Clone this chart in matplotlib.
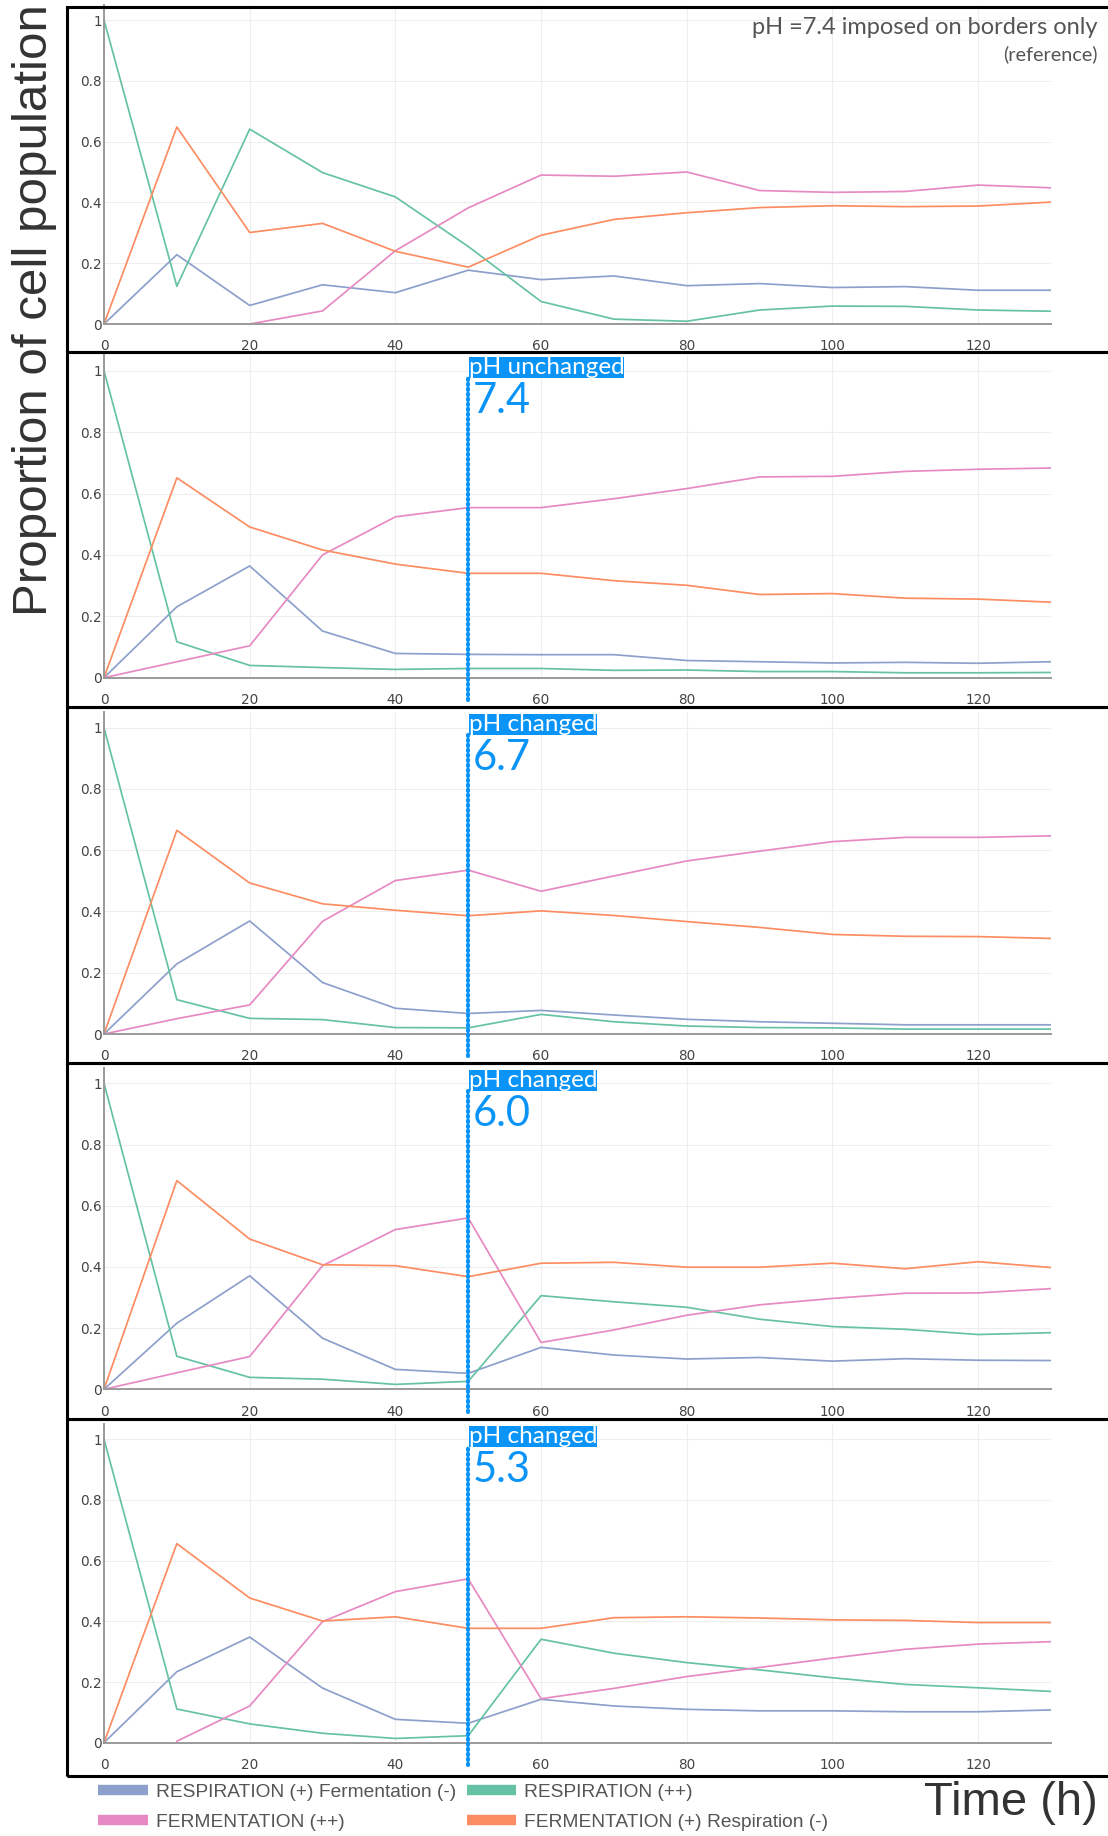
import numpy as np
import matplotlib
matplotlib.use('Agg')
import matplotlib.pyplot as plt
from matplotlib.patches import Rectangle
from matplotlib.lines import Line2D

nan = np.nan
t = [0, 10, 20, 30, 40, 50, 60, 70, 80, 90, 100, 110, 120, 130]

# panel 1 : pH 7.4 imposed on borders only (reference)
ref_resp_ferm = [0, 0.228, 0.061, 0.129, 0.103, 0.177, 0.146, 0.158, 0.126, 0.133, 0.120, 0.123, 0.111, 0.111]
ref_resp = [1.0, 0.124, 0.641, 0.498, 0.418, 0.255, 0.074, 0.016, 0.009, 0.046, 0.059, 0.058, 0.046, 0.042]
ref_ferm = [nan, nan, 0.0, 0.043, 0.241, 0.382, 0.490, 0.486, 0.500, 0.439, 0.433, 0.436, 0.457, 0.448]
ref_ferm_resp = [0, 0.648, 0.301, 0.331, 0.239, 0.187, 0.292, 0.344, 0.366, 0.383, 0.389, 0.386, 0.388, 0.401]

# panel 2 : pH unchanged 7.4
ph74_resp_ferm = [0, 0.231, 0.364, 0.152, 0.079, 0.076, 0.075, 0.075, 0.056, 0.052, 0.048, 0.050, 0.047, 0.052]
ph74_resp = [1.0, 0.117, 0.040, 0.033, 0.027, 0.030, 0.030, 0.024, 0.025, 0.020, 0.020, 0.016, 0.016, 0.017]
ph74_ferm = [0, 0.052, 0.104, 0.400, 0.524, 0.554, 0.554, 0.583, 0.616, 0.654, 0.656, 0.672, 0.679, 0.683]
ph74_ferm_resp = [0, 0.651, 0.491, 0.416, 0.370, 0.340, 0.340, 0.316, 0.301, 0.271, 0.274, 0.259, 0.256, 0.246]

# panel 3 : pH changed 6.7
ph67_resp_ferm = [0, 0.229, 0.369, 0.168, 0.084, 0.067, 0.077, 0.062, 0.048, 0.040, 0.035, 0.030, 0.030, 0.030]
ph67_resp = [1.0, 0.112, 0.051, 0.047, 0.021, 0.020, 0.064, 0.040, 0.026, 0.021, 0.020, 0.016, 0.016, 0.016]
ph67_ferm = [0, 0.050, 0.095, 0.368, 0.501, 0.535, 0.466, 0.516, 0.565, 0.597, 0.628, 0.642, 0.642, 0.647]
ph67_ferm_resp = [0, 0.665, 0.493, 0.425, 0.404, 0.386, 0.402, 0.387, 0.367, 0.348, 0.325, 0.319, 0.318, 0.312]

# panel 4 : pH changed 6.0
ph60_resp_ferm = [0, 0.216, 0.371, 0.167, 0.065, 0.052, 0.137, 0.112, 0.099, 0.104, 0.092, 0.100, 0.095, 0.094]
ph60_resp = [1.0, 0.108, 0.039, 0.033, 0.016, 0.026, 0.306, 0.286, 0.268, 0.229, 0.205, 0.196, 0.179, 0.185]
ph60_ferm = [0, 0.054, 0.107, 0.404, 0.522, 0.560, 0.153, 0.194, 0.242, 0.276, 0.297, 0.314, 0.315, 0.329]
ph60_ferm_resp = [0, 0.682, 0.491, 0.407, 0.404, 0.368, 0.412, 0.415, 0.399, 0.399, 0.412, 0.394, 0.417, 0.398]

# panel 5 : pH changed 5.3
ph53_resp_ferm = [0, 0.234, 0.348, 0.180, 0.077, 0.064, 0.143, 0.121, 0.110, 0.105, 0.105, 0.102, 0.102, 0.108]
ph53_resp = [1.0, 0.111, 0.062, 0.031, 0.014, 0.023, 0.341, 0.295, 0.264, 0.240, 0.214, 0.192, 0.181, 0.169]
ph53_ferm = [nan, 0.005, 0.121, 0.399, 0.498, 0.540, 0.145, 0.179, 0.218, 0.248, 0.279, 0.308, 0.325, 0.333]
ph53_ferm_resp = [0, 0.656, 0.477, 0.401, 0.415, 0.377, 0.377, 0.412, 0.415, 0.411, 0.405, 0.403, 0.396, 0.396]

series_names = ['RESPIRATION (+) Fermentation (-)', 'RESPIRATION (++)',
                'FERMENTATION (++)', 'FERMENTATION (+) Respiration (-)']
colors = ['#8da0cb', '#66c2a5', '#e78ac3', '#fc8d62']

panels = [
    (ref_resp_ferm, ref_resp, ref_ferm, ref_ferm_resp),
    (ph74_resp_ferm, ph74_resp, ph74_ferm, ph74_ferm_resp),
    (ph67_resp_ferm, ph67_resp, ph67_ferm, ph67_ferm_resp),
    (ph60_resp_ferm, ph60_resp, ph60_ferm, ph60_ferm_resp),
    (ph53_resp_ferm, ph53_resp, ph53_ferm, ph53_ferm_resp),
]
ph_tags = [None, 'pH unchanged', 'pH changed', 'pH changed', 'pH changed']
ph_values = [None, '7.4', '6.7', '6.0', '5.3']
ph_switch = 50

W, H = 1108, 1836
blue = '#0a94f7'

fig = plt.figure(figsize=(W / 100, H / 100), dpi=100)

# pixel rows of y=0 / y=1 for each panel, and panel frames
y0_px = [324, 677.7, 1034, 1389.3, 1742.7]
y1_px = [20, 370.7, 727.7, 1083.3, 1439.3]
frame_top = [7, 352, 707, 1063, 1419]
frame_bot = [352, 707, 1063, 1419, 1776]
x0_px, x1_px = 104, 1051
ytop = 1.05

for i, series in enumerate(panels):
    ax = fig.add_axes([x0_px / W, 1 - y0_px[i] / H, (x1_px - x0_px) / W,
                       ytop * (y0_px[i] - y1_px[i]) / H])
    for vals, c in zip(series, colors):
        ax.plot(t, vals, color=c, lw=1.25)
    ax.set_xlim(0, 130)
    ax.set_ylim(0, ytop)
    ax.set_xticks(range(0, 121, 20))
    ax.set_yticks([0, 0.2, 0.4, 0.6, 0.8, 1])
    ax.set_yticklabels(['0', '0.2', '0.4', '0.6', '0.8', '1'])
    ax.tick_params(length=0, labelsize=9.8, labelcolor='#444')
    ax.tick_params(axis='x', pad=11)
    ax.tick_params(axis='y', pad=1.5)
    ax.grid(True, color='#eeeeee', lw=0.8)
    ax.set_axisbelow(True)
    for s in ['top', 'right']:
        ax.spines[s].set_visible(False)
    for s in ['left', 'bottom']:
        ax.spines[s].set_color('#9a9a9a')
        ax.spines[s].set_linewidth(1.4)

    if ph_tags[i] is not None:
        # dotted marker of the pH switch
        ax.plot([ph_switch, ph_switch], [-0.073, 0.975], color=blue, lw=3.0,
                ls=(0, (0.3, 0.9)), dash_capstyle='round', clip_on=False, zorder=5)
        ax.text(ph_switch + 0.05, 1.009, ph_tags[i], color='white', fontsize=17.5,
                family='Lato', ha='left', va='center', zorder=6,
                bbox=dict(boxstyle='square,pad=0.0', fc=blue, ec='none'))
        ax.text(ph_switch + 0.6, 0.9, ph_values[i], color=blue, fontsize=30,
                family='Lato', ha='left', va='center', zorder=6)
    else:
        fig.text(1098 / W, 1 - 28 / H, 'pH =7.4 imposed on borders only', color='#555',
                 fontsize=17, family='Lato', ha='right', va='center')
        fig.text(1098 / W, 1 - 54 / H, '(reference)', color='#555',
                 fontsize=14.3, family='Lato', ha='right', va='center')

# black frames around each panel
for top, bot in zip(frame_top, frame_bot):
    fig.add_artist(Rectangle((67 / W, 1 - bot / H), 1.2, (bot - top) / H,
                             transform=fig.transFigure, fill=False, ec='black',
                             lw=2.2, zorder=10))

fig.text(35 / W, 1 - 310 / H, 'Proportion of cell population', rotation=90,
         ha='center', va='center', fontsize=35.5, color='#333',
         family=['Liberation Sans', 'DejaVu Sans'])

fig.text(1098 / W, 1 - 1803 / H, 'Time (h)', ha='right', va='center', fontsize=34,
         color='#333', family=['Liberation Sans', 'DejaVu Sans'])

handles = [Line2D([], [], color=c, lw=7.5, solid_capstyle='butt') for c in colors]
order = [0, 2, 1, 3]
leg = fig.legend([handles[k] for k in order], [series_names[k] for k in order],
                 ncol=2, loc='upper left', bbox_to_anchor=(81 / W, 1 - 1766 / H),
                 frameon=False, handlelength=2.6, handletextpad=0.4,
                 columnspacing=0.55, labelspacing=0.65,
                 prop={'family': ['Liberation Sans', 'DejaVu Sans'], 'size': 13.8})
for txt in leg.get_texts():
    txt.set_color('#555')

plt.savefig('out.png', dpi=100)
